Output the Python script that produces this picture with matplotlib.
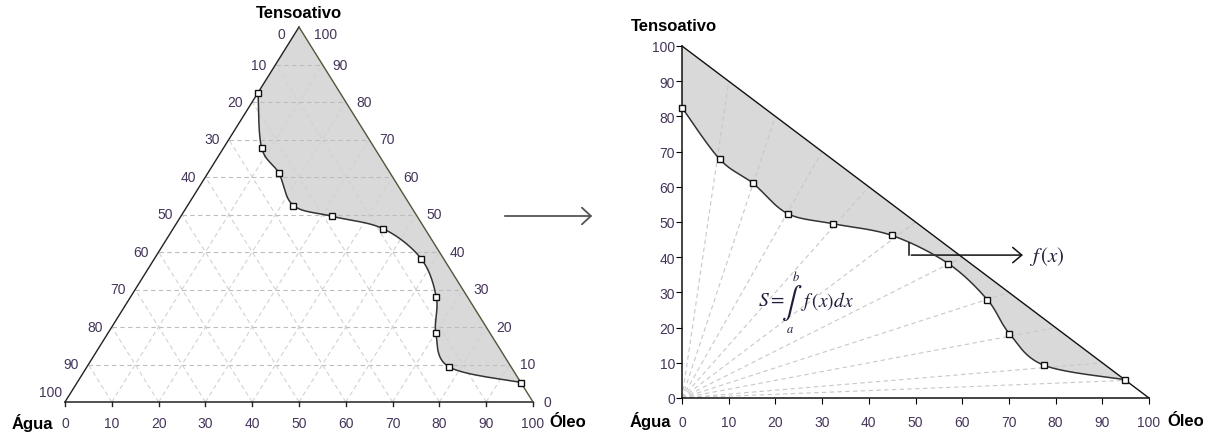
import numpy as np
import matplotlib.pyplot as plt

plt.rcParams['font.family'] = ['Liberation Sans', 'DejaVu Sans']
plt.rcParams['mathtext.fontset'] = 'stix'

# pontos da curva binodal (% oleo, % tensoativo)
oleo = [0, 8.1, 15.2, 22.6, 32.4, 44.9, 57.0, 65.4, 70.1, 77.5, 94.9]
tens = [82.5, 67.8, 61.0, 52.4, 49.5, 46.2, 38.2, 27.9, 18.3, 9.3, 5.2]

ticks = list(range(0, 101, 10))
tie_oleo = [10, 20, 30, 40, 50, 60, 70, 80, 90, 95]

lab_col = '#45355a'
fill_col = '#d9d9d9'
curve_col = '#333333'
eq_col = '#1f1f3a'


def smooth(xs, ys, n=24):
    # bezier "suavizado" estilo excel
    p = np.column_stack([xs, ys]).astype(float)
    p = np.vstack([p[0], p, p[-1]])
    t = np.linspace(0, 1, n, endpoint=False)[:, None]
    out = []
    for i in range(1, len(p) - 2):
        p0, p1, p2, p3 = p[i - 1], p[i], p[i + 1], p[i + 2]
        c1 = p1 + (p2 - p0) / 6
        c2 = p2 - (p3 - p1) / 6
        b = ((1 - t) ** 3) * p1 + 3 * ((1 - t) ** 2) * t * c1 + 3 * (1 - t) * t ** 2 * c2 + t ** 3 * p2
        out.append(b)
    out.append(p[-2][None, :])
    out = np.vstack(out)
    return out[:, 0], out[:, 1]


def tri(o, t):
    o = np.asarray(o, float)
    t = np.asarray(t, float)
    return o + t / 2, t


fig = plt.figure(figsize=(12.12, 4.35), dpi=100)

# ---------------- diagrama ternario ----------------
ax1 = fig.add_axes([65 / 1212, 32 / 435, 468 / 1212, 375 / 435])
ax1.set_xlim(0, 100)
ax1.set_ylim(0, 100)
ax1.axis('off')

so, st = smooth(oleo, tens)
cx, cy = tri(so, st)
px = np.concatenate([cx, [50]])
py = np.concatenate([cy, [100]])
ax1.fill(px, py, color=fill_col, lw=0, zorder=1)

for v in ticks[1:-1]:
    ax1.plot([v / 2, 100 - v / 2], [v, v], ls='--', color='#bdbdbd', lw=0.8, dashes=(4, 3), zorder=2)
    ax1.plot([v, v + (100 - v) / 2], [0, 100 - v], ls='--', color='#d2d2d2', lw=0.8, dashes=(4, 3), zorder=2)
    ax1.plot([100 - v, (100 - v) / 2], [0, 100 - v], ls='--', color='#d2d2d2', lw=0.8, dashes=(4, 3), zorder=2)

ax1.plot([0, 100], [0, 0], color='#222222', lw=1.1, clip_on=False, zorder=4)
ax1.plot([0, 50], [0, 100], color='#222222', lw=1.0, clip_on=False, zorder=4)
ax1.plot([100, 50], [0, 100], color='#55553a', lw=1.0, clip_on=False, zorder=4)
for v in ticks:
    ax1.plot([v, v], [0, -1.1], color='#222222', lw=1.0, clip_on=False, zorder=4)
    ax1.text(v, -5.6, str(v), ha='center', va='center', fontsize=10, color=lab_col)
    # lado esquerdo: agua
    t = min(max(100 - v, 2.7), 98.1)
    ax1.text(t / 2 - 2.0, t, str(v), ha='right', va='center', fontsize=10, color=lab_col)
    # lado direito: tensoativo
    t = min(v, 98.1)
    ax1.text(100 - t / 2 + 2.2, t, str(v), ha='left', va='center', fontsize=10, color=lab_col)

ax1.plot(cx, cy, color=curve_col, lw=1.1, zorder=5, clip_on=False)
mx, my = tri(oleo, tens)
ax1.plot(mx, my, ls='none', marker='s', ms=5, mfc='white', mec='#111111', mew=1.0, zorder=6, clip_on=False)

ax1.text(50, 104, 'Tensoativo', ha='center', va='center', fontsize=12, fontweight='bold')
ax1.text(-2.6, -5.3, 'Água', ha='right', va='center', fontsize=12, fontweight='bold')
ax1.text(103.6, -5.3, 'Óleo', ha='left', va='center', fontsize=12, fontweight='bold')

# seta entre os graficos
ax1.annotate('', xy=(595 / 1212, 1 - 217 / 435), xytext=(502 / 1212, 1 - 217 / 435),
             xycoords='figure fraction', textcoords='figure fraction',
             arrowprops=dict(arrowstyle='->,head_length=0.65,head_width=0.6', color='#555555', lw=1.3))

# ---------------- diagrama retangular ----------------
ax2 = fig.add_axes([682 / 1212, 36 / 435, 467 / 1212, 352 / 435])
ax2.set_xlim(0, 100)
ax2.set_ylim(0, 100)
for s in ['top', 'right']:
    ax2.spines[s].set_visible(False)
for s in ['left', 'bottom']:
    ax2.spines[s].set_color('#111111')
    ax2.spines[s].set_linewidth(1.1)
ax2.set_xticks(ticks)
ax2.set_yticks(ticks)
ax2.tick_params(axis='x', length=4, pad=8, labelsize=10, labelcolor=lab_col)
ax2.tick_params(axis='y', length=4, pad=1, labelsize=10, labelcolor=lab_col)

s2x, s2y = smooth(oleo, tens)
ax2.fill(np.concatenate([s2x, [0]]), np.concatenate([s2y, [100]]), color=fill_col, lw=0, zorder=1)

for o in tie_oleo:
    ax2.plot([0, o], [0, 100 - o], ls='--', color='#c8c8c8', lw=0.8, dashes=(4, 3), zorder=2)

ax2.plot([0, 100], [100, 0], color='#111111', lw=1.0, zorder=4, clip_on=False)
ax2.plot(s2x, s2y, color=curve_col, lw=1.1, zorder=5, clip_on=False)
ax2.plot(oleo, tens, ls='none', marker='s', ms=5, mfc='white', mec='#111111', mew=1.0, zorder=6, clip_on=False)

# f(x)
ax2.plot([48.6, 48.6], [44.0, 40.6], color='#111111', lw=1.1, zorder=7)
ax2.annotate('', xy=(73.6, 40.6), xytext=(48.5, 40.6),
             arrowprops=dict(arrowstyle='->,head_length=0.65,head_width=0.55', color='#111111', lw=1.1))
ax2.text(74.4, 40.4, r'$f\,\left(x\right)$', ha='left', va='center', fontsize=15, color=eq_col)

# S = integral de a ate b
ax2.text(22.0, 27.6, r'$S=$', ha='right', va='center', fontsize=14, color=eq_col)
ax2.text(23.5, 27.2, r'$\int$', ha='center', va='center', fontsize=22, color=eq_col)
ax2.text(24.5, 34.6, r'$b$', ha='center', va='center', fontsize=9, color=eq_col)
ax2.text(23.1, 19.6, r'$a$', ha='center', va='center', fontsize=9, color=eq_col)
ax2.text(25.4, 27.6, r'$f\,\left(x\right)dx$', ha='left', va='center', fontsize=14, color=eq_col)

ax2.text(-1.7, 105.7, 'Tensoativo', ha='center', va='center', fontsize=12, fontweight='bold')
ax2.text(-2.4, -6.3, 'Água', ha='right', va='center', fontsize=12, fontweight='bold')
ax2.text(103.9, -6.3, 'Óleo', ha='left', va='center', fontsize=12, fontweight='bold')

fig.savefig('out.png', dpi=100)
